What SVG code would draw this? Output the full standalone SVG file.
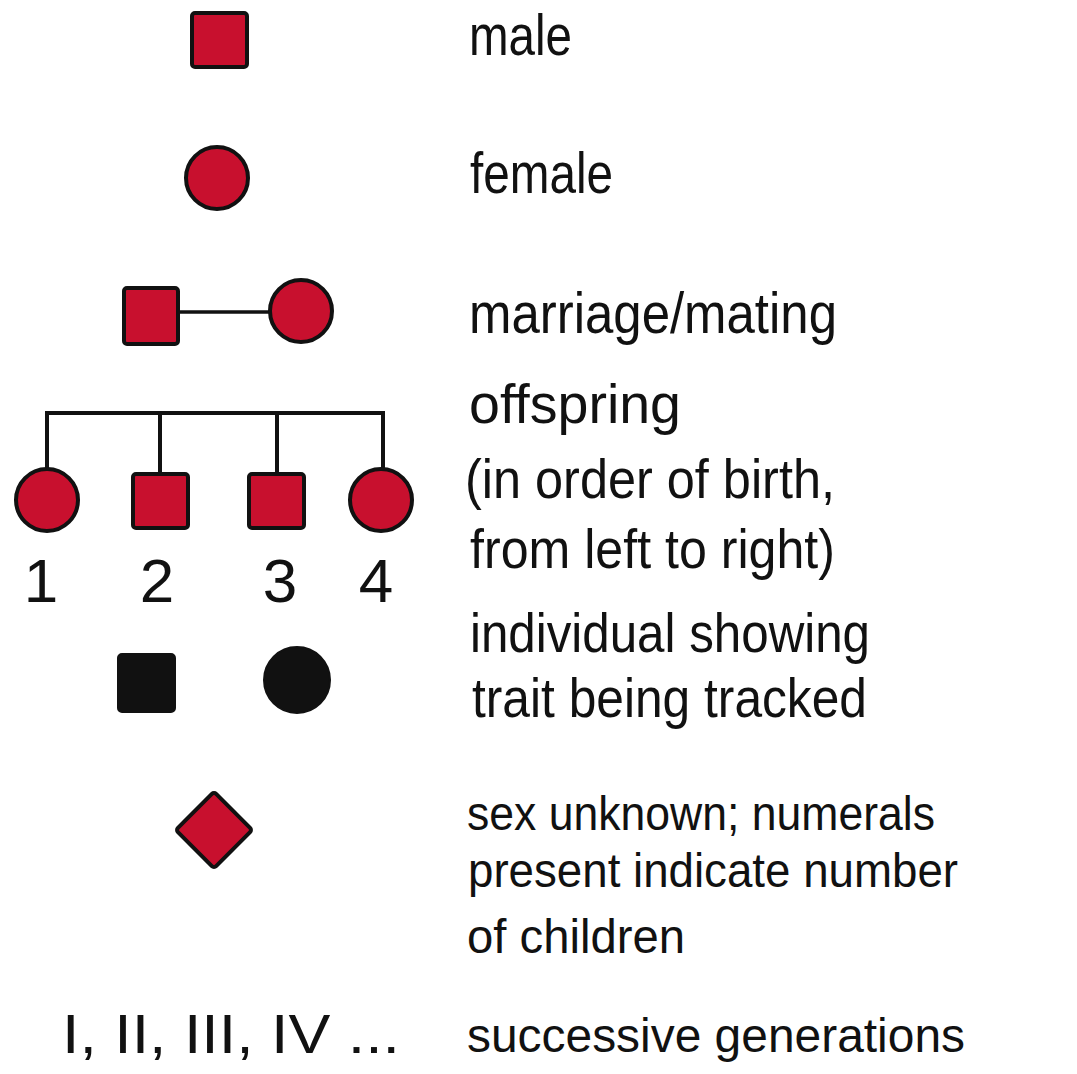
<svg xmlns="http://www.w3.org/2000/svg" width="1077" height="1074" viewBox="0 0 1077 1074">
<style>
.red{fill:#c8102e;stroke:#111;stroke-width:4}
.blk{fill:#111;stroke:#111;stroke-width:2}
.ln{stroke:#111;stroke-width:4;fill:none}
.t{font-family:"Liberation Sans",Arial,sans-serif;fill:#111}
.a{font-size:57px}
.b{font-size:55px}
.c{font-size:48px}
.n{font-size:62px;text-anchor:middle}
</style>
<rect width="1077" height="1074" fill="#fff"/>
<g id="connectors">
<line class="ln" x1="178" y1="312" x2="270" y2="312" style="stroke-width:3.5"/>
<polyline class="ln" points="47,468 47,413 383,413 383,468"/>
<line class="ln" x1="160" y1="413" x2="160" y2="473"/>
<line class="ln" x1="277" y1="413" x2="277" y2="473"/>
</g>
<g id="male"><rect class="red" x="192" y="13" width="55" height="54" rx="3"/></g>
<g id="female"><circle class="red" cx="217" cy="178" r="31"/></g>
<g id="mate-male"><rect class="red" x="124" y="288" width="54" height="56" rx="3"/></g>
<g id="mate-female"><circle class="red" cx="301" cy="311" r="31"/></g>
<g id="child1"><circle class="red" cx="47" cy="500" r="31"/></g>
<g id="child2"><rect class="red" x="133" y="474" width="55" height="54" rx="3"/></g>
<g id="child3"><rect class="red" x="249" y="474" width="55" height="54" rx="3"/></g>
<g id="child4"><circle class="red" cx="381" cy="500" r="31"/></g>
<g id="affected-male"><rect class="blk" x="118" y="654" width="57" height="58" rx="4"/></g>
<g id="affected-female"><circle class="blk" cx="297" cy="680" r="33"/></g>
<g id="unknown"><rect class="red" x="187" y="803" width="54" height="54" rx="3" transform="rotate(45 214 830)"/></g>
<g id="numbers">
<text class="t n" x="41" y="602">1</text>
<text class="t n" x="157" y="602">2</text>
<text class="t n" x="280" y="602">3</text>
<text class="t n" x="376" y="602">4</text>
<text class="t" x="62" y="1053" style="font-size:56px" textLength="338" lengthAdjust="spacingAndGlyphs">I, II, III, IV ...</text>
</g>
<g id="labels">
<text class="t a" x="469" y="55" textLength="103" lengthAdjust="spacingAndGlyphs">male</text>
<text class="t a" x="470" y="193" textLength="143" lengthAdjust="spacingAndGlyphs">female</text>
<text class="t a" x="469" y="333" textLength="368" lengthAdjust="spacingAndGlyphs">marriage/mating</text>
<text class="t b" x="469" y="423" textLength="212" lengthAdjust="spacingAndGlyphs">offspring</text>
<text class="t b" x="465" y="498" textLength="370" lengthAdjust="spacingAndGlyphs">(in order of birth,</text>
<text class="t b" x="470" y="568" textLength="365" lengthAdjust="spacingAndGlyphs">from left to right)</text>
<text class="t b" x="470" y="652" textLength="400" lengthAdjust="spacingAndGlyphs">individual showing</text>
<text class="t b" x="472" y="717" textLength="395" lengthAdjust="spacingAndGlyphs">trait being tracked</text>
<text class="t c" x="467" y="830" textLength="468" lengthAdjust="spacingAndGlyphs">sex unknown; numerals</text>
<text class="t c" x="468" y="887" textLength="490" lengthAdjust="spacingAndGlyphs">present indicate number</text>
<text class="t c" x="467" y="953" textLength="218" lengthAdjust="spacingAndGlyphs">of children</text>
<text class="t c" x="467" y="1052" textLength="498" lengthAdjust="spacingAndGlyphs">successive generations</text>
</g>
</svg>
